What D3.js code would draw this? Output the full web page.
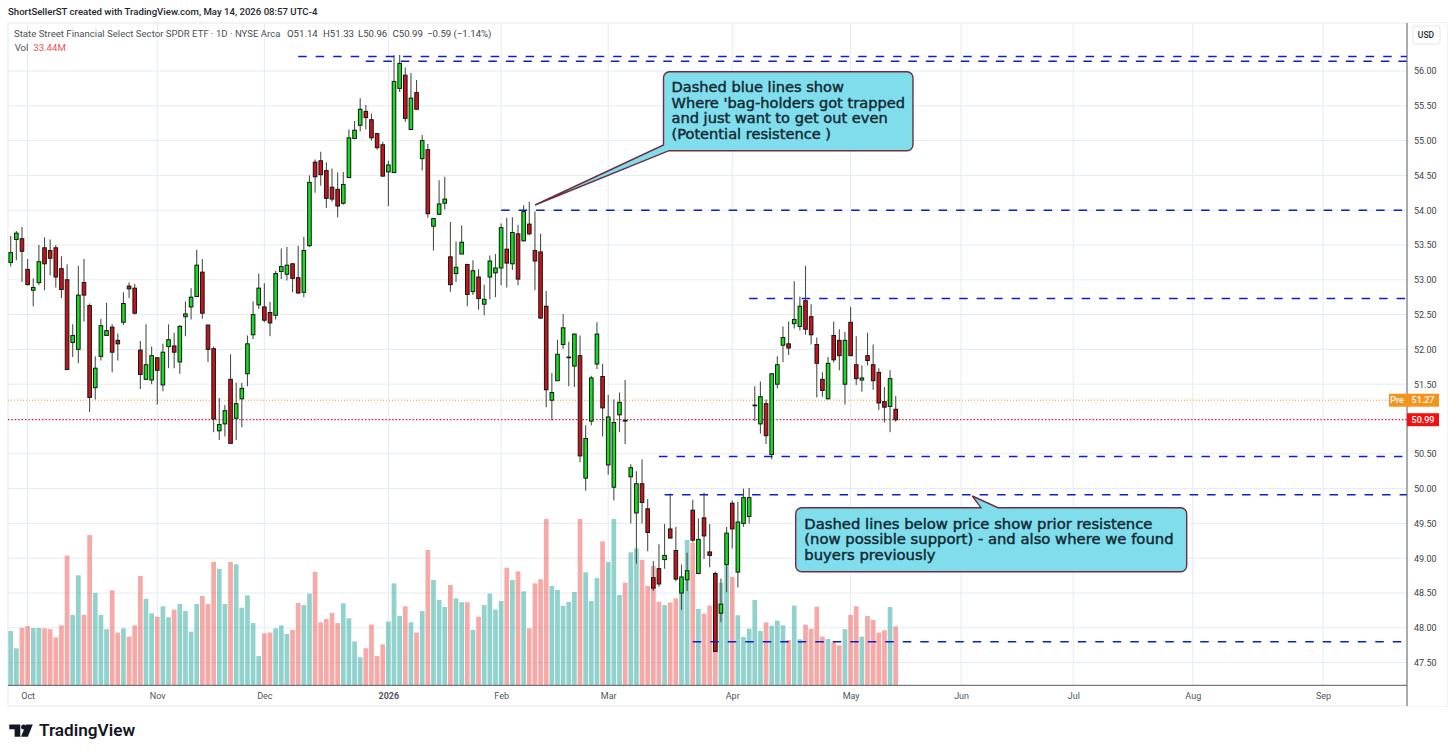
<!DOCTYPE html>
<html><head><meta charset="utf-8">
<script src="https://cdn.jsdelivr.net/npm/d3@7/dist/d3.min.js"></script>
<style>
html,body{margin:0;padding:0;background:#fff;overflow:hidden}
svg{display:block}
text{font-family:Roboto,"Open Sans",sans-serif}
.callout text{font-family:"DejaVu Sans",sans-serif;font-weight:400;fill:#0d2530;stroke:#0d2530;stroke-width:.4px}
</style></head><body>
<svg id="c" width="1456" height="755"></svg>
<script>
const opens=[53.25,53.58,53.59,53.15,52.85,52.96,53.46,53.42,53.46,53.16,53.00,52.10,52.00,52.96,52.63,51.45,51.90,52.20,52.32,52.13,52.39,52.91,52.88,51.99,51.57,51.56,51.88,51.49,52.04,52.05,51.82,52.47,52.61,52.76,53.11,52.35,52.01,50.83,50.93,51.57,51.01,51.29,51.65,52.21,52.64,52.61,52.53,52.49,53.12,53.08,53.23,53.03,52.82,53.49,54.69,54.71,54.57,54.33,54.30,54.10,54.47,55.03,55.22,55.42,55.30,55.10,54.94,54.55,54.54,55.75,55.94,55.16,55.69,54.74,54.87,53.77,53.94,54.10,53.33,53.09,53.37,53.22,52.83,53.04,52.65,53.04,53.10,53.17,53.44,53.23,53.66,53.56,53.80,53.42,53.40,52.62,51.27,51.55,52.07,51.88,51.76,51.91,50.15,50.97,51.79,51.61,50.34,50.02,51.06,50.98,50.17,49.65,50.07,49.71,48.72,48.85,48.98,49.42,49.11,48.50,48.69,49.69,48.78,49.58,49.09,48.78,48.21,48.91,49.79,48.80,49.50,49.60,51.19,50.93,51.22,50.49,51.50,52.06,52.08,52.37,52.33,52.70,52.47,52.07,51.57,51.29,52.20,52.13,51.50,52.39,51.78,51.56,51.91,51.78,51.67,51.25,51.18,51.14];
const closes=[53.39,53.67,53.41,52.93,52.89,53.26,53.23,53.31,53.04,52.86,51.71,52.20,52.78,52.78,51.31,51.73,52.34,52.27,51.96,52.08,52.66,52.87,52.52,51.64,51.78,51.91,51.70,51.96,52.14,51.96,52.33,52.51,52.75,53.21,52.52,52.00,51.00,50.92,51.12,50.65,51.22,51.44,52.08,52.50,52.88,52.42,52.38,53.09,53.19,53.21,53.02,52.81,53.42,54.40,54.48,54.51,54.17,54.16,54.06,54.37,55.04,55.15,55.45,55.33,55.04,54.90,54.49,54.65,55.85,56.11,55.32,55.61,55.45,55.00,53.95,53.88,54.09,54.16,52.93,53.18,53.54,52.79,53.13,52.73,52.72,53.27,53.17,53.75,53.24,53.68,53.01,53.98,53.66,53.27,52.45,51.42,51.38,51.93,52.31,51.89,52.22,50.47,50.72,51.59,52.22,51.16,51.03,50.95,51.24,50.97,50.30,50.07,49.80,49.37,48.57,48.63,49.04,49.29,48.70,48.73,48.82,49.26,49.27,49.32,49.04,47.66,48.34,49.36,49.42,49.52,49.87,49.87,51.20,51.32,50.76,51.65,51.78,52.17,52.02,52.43,52.62,52.29,52.21,51.80,51.41,51.80,51.85,51.91,52.13,51.91,51.58,51.59,51.84,51.55,51.23,51.17,51.58,50.99];
const highs=[53.63,53.70,53.76,53.30,53.02,53.50,53.61,53.58,53.50,53.34,53.22,52.36,53.20,53.30,52.66,51.90,52.44,52.67,52.36,52.23,52.82,52.96,52.94,52.12,52.36,52.04,51.89,52.08,52.36,52.24,52.35,52.69,52.88,53.43,53.30,52.35,52.04,51.30,51.20,51.93,51.52,51.52,52.20,52.69,53.09,52.95,52.68,53.13,53.45,53.47,53.24,53.49,53.62,54.50,54.73,54.84,54.69,54.60,54.54,54.55,55.16,55.28,55.61,55.51,55.39,55.11,54.98,54.71,56.23,56.23,56.05,55.97,55.87,55.08,54.95,53.89,54.43,54.48,53.83,53.55,53.78,53.23,53.28,53.15,52.93,53.35,53.37,53.81,53.89,53.90,53.79,54.07,54.12,53.98,53.66,52.84,51.66,52.14,52.51,52.11,52.23,52.20,50.91,51.62,52.39,51.79,51.35,51.28,51.38,51.56,50.35,50.25,50.42,49.85,48.96,49.20,49.49,49.93,49.45,48.91,49.08,49.84,49.57,49.94,49.49,48.81,48.71,49.45,49.83,49.81,50.00,50.01,51.47,51.54,51.28,51.66,51.90,52.33,52.40,52.98,52.76,53.20,52.65,52.17,51.67,51.89,52.40,52.29,52.25,52.61,52.19,51.77,52.24,52.07,51.73,51.46,51.70,51.33];
const lows=[53.19,53.28,52.97,52.92,52.62,52.92,52.85,53.06,52.89,52.74,51.71,51.89,51.80,52.40,51.10,51.28,51.84,52.20,51.67,51.84,52.35,52.74,52.50,51.43,51.56,51.50,51.21,51.40,51.73,51.73,51.65,52.19,52.43,52.75,52.44,51.82,50.81,50.70,50.75,50.65,50.70,50.88,51.47,52.15,52.58,52.39,52.19,52.43,53.01,52.99,52.82,52.80,52.75,53.47,54.25,54.35,54.03,54.12,53.90,54.08,54.47,55.03,55.13,55.16,55.00,54.87,54.48,54.06,54.54,55.70,55.27,55.15,55.45,54.57,53.89,53.42,53.94,54.01,52.83,52.97,53.37,52.62,52.78,52.57,52.49,52.72,52.75,52.92,52.89,53.14,52.92,53.55,53.64,52.85,52.44,51.17,50.98,51.55,52.01,51.47,51.46,50.38,49.97,50.91,51.72,50.75,50.20,49.83,50.81,50.64,49.50,48.92,49.50,49.10,48.53,48.59,48.85,49.28,48.67,48.26,48.53,49.23,48.78,48.99,48.87,47.66,48.08,48.51,49.14,48.58,49.45,49.50,50.97,50.79,50.64,50.42,51.44,51.82,51.92,52.30,52.27,52.21,52.07,51.31,51.32,51.28,51.81,51.70,51.21,51.91,51.49,51.39,51.77,51.42,51.13,50.95,50.81,50.96];
const volumes=[30.8,21.0,32.5,33.6,32.5,32.5,32.3,31.8,27.2,34.0,73.5,39.9,62.4,39.9,85.2,52.4,39.9,31.8,53.9,29.9,32.3,27.6,34.0,62.0,49.0,40.8,38.9,44.8,38.6,42.9,46.1,42.1,30.4,46.1,50.7,46.1,69.9,66.0,46.1,69.9,68.6,44.0,51.0,35.3,16.6,29.5,29.9,32.3,34.0,29.1,31.4,46.7,45.5,52.0,64.3,35.7,37.6,41.0,35.3,46.5,38.0,24.9,15.9,21.0,34.4,16.6,23.2,36.1,57.8,39.3,44.8,35.7,29.9,42.1,76.7,59.7,48.4,44.4,56.9,49.3,47.1,47.1,31.4,38.9,45.5,52.0,42.9,47.8,66.7,59.7,64.6,53.3,32.3,57.8,60.1,94.3,56.3,54.1,45.0,47.3,52.9,94.3,64.1,47.8,60.9,81.6,69.9,94.3,51.2,58.2,75.4,77.7,71.1,56.3,67.7,47.4,45.5,46.9,49.3,58.2,82.4,80.9,43.3,40.6,45.2,48.4,58.2,68.8,61.4,39.7,27.4,32.1,48.4,30.8,35.7,33.8,36.7,34.0,25.7,45.2,26.1,34.4,32.1,44.6,27.6,26.3,24.4,22.7,31.8,39.9,44.8,27.6,39.3,37.0,29.9,31.2,44.4,33.44];
const monthIndex=[3,26,45,67,87,106,128,149,168.6,188.5,209.7,232.8];
const monthLabels=["Oct","Nov","Dec","2026","Feb","Mar","Apr","May","Jun","Jul","Aug","Sep"];
const priceTicks=d3.range(47.5,56.01,0.5);
const levels=[56.21,56.14,54.00,52.73,50.46,49.91,47.80];
const levelStart=[51,63,87,131,115,116,121];
const lastClose=50.99, prePrice=51.27;
const note1=["Dashed blue lines show","Where 'bag-holders got trapped","and just want to get out even","(Potential resistence )"];
const note2=["Dashed lines below price show prior resistence","(now possible support) - and also where we found","buyers previously"];
const header="ShortSellerST created with TradingView.com, May 14, 2026 08:57 UTC-4";
const title="State Street Financial Select Sector SPDR ETF · 1D · NYSE Arca";
const ohlcText=["O51.14","H51.33","L50.96","C50.99","−0.59 (−1.14%)"];

const L=8,R=1407,RF=1447,T=23,B=685.3,BF=706;
const x=d3.scaleLinear().domain([0,157]).range([10.7,895.7]);
const y=d3.scaleLinear().domain([56,47.5]).range([71,662.6]);
const yV=d3.scaleLinear().domain([0,94.3]).range([B,519]);
const svg=d3.select("#c");
svg.append("rect").attr("width",1456).attr("height",755).attr("fill","#fff");
// frame
svg.append("rect").attr("x",L).attr("y",T).attr("width",RF-L).attr("height",BF-T).attr("fill","none").attr("stroke","#e9ecef").attr("stroke-width",1.2);
// grid
const g=svg.append("g");
g.selectAll("line.h").data(priceTicks).join("line").attr("x1",L).attr("x2",R).attr("y1",d=>y(d)).attr("y2",d=>y(d)).attr("stroke","#e3ecf3").attr("stroke-width",1);
g.selectAll("line.v").data(monthIndex).join("line").attr("x1",d=>x(d)).attr("x2",d=>x(d)).attr("y1",T).attr("y2",B).attr("stroke","#e3ecf3").attr("stroke-width",1);
// volume
svg.append("g").selectAll("rect").data(volumes).join("rect")
 .attr("x",(d,i)=>x(i)-2.35).attr("width",4.7).attr("y",d=>yV(d)).attr("height",d=>B-yV(d))
 .attr("fill",(d,i)=>closes[i]>=opens[i]?"#26a69a":"#ef5350").attr("fill-opacity",.5);
// price lines
svg.append("line").attr("x1",L).attr("x2",1389).attr("y1",y(prePrice)).attr("y2",y(prePrice)).attr("stroke","#f59a23").attr("stroke-width",1).attr("stroke-dasharray","1 2");
svg.append("line").attr("x1",L).attr("x2",R).attr("y1",y(lastClose)).attr("y2",y(lastClose)).attr("stroke","#e8103c").attr("stroke-width",1.2).attr("stroke-dasharray","1.4 2");
// candles
const cg=svg.append("g");
cg.selectAll("line").data(opens).join("line").attr("x1",(d,i)=>x(i)).attr("x2",(d,i)=>x(i)).attr("y1",(d,i)=>y(highs[i])).attr("y2",(d,i)=>y(lows[i])).attr("stroke","#4a5248").attr("stroke-width",1.1);
cg.selectAll("rect").data(opens).join("rect")
 .attr("x",(d,i)=>x(i)-1.8).attr("width",3.6)
 .attr("y",(d,i)=>y(Math.max(d,closes[i]))).attr("height",(d,i)=>Math.max(0.3,Math.abs(y(d)-y(closes[i]))))
 .attr("fill",(d,i)=>closes[i]>=d?"#18dc22":"#cc1020").attr("stroke","#0e1a0e").attr("stroke-width",1);
// dashed levels
svg.append("g").selectAll("line").data(levels).join("line").attr("x1",(d,i)=>x(levelStart[i])).attr("x2",R).attr("y1",d=>y(d)).attr("y2",d=>y(d)).attr("stroke","#0f1fc8").attr("stroke-width",1.5).attr("stroke-dasharray","8.5 9");
// axes
svg.append("rect").attr("x",R).attr("y",T).attr("width",RF-R).attr("height",BF-T).attr("fill","#fff");
const ay=svg.append("g").attr("transform",`translate(${R},0)`).call(d3.axisRight(y).tickValues(priceTicks.filter(d=>d!==51)).tickFormat(d3.format(".2f")).tickSize(0).tickPadding(7));
ay.select(".domain").remove();
ay.selectAll("text").attr("font-family","Roboto").attr("font-size",9).attr("fill","#3a3f47");
const ax=svg.append("g").attr("transform",`translate(0,${B})`).call(d3.axisBottom(x).tickValues(monthIndex).tickFormat((d,i)=>monthLabels[i]).tickSize(0).tickPadding(7));
ax.select(".domain").remove();
ax.selectAll("text").attr("font-family","Roboto").attr("font-size",9).attr("fill","#50555c").attr("font-weight",(d,i)=>monthLabels[i]==="2026"?700:400);
svg.append("line").attr("x1",L).attr("x2",R).attr("y1",B).attr("y2",B).attr("stroke","#555a60").attr("stroke-width",1);
svg.append("line").attr("x1",R).attr("x2",R).attr("y1",T).attr("y2",BF).attr("stroke","#555a60").attr("stroke-width",1);
// USD box
svg.append("rect").attr("x",1413).attr("y",26).attr("width",27).attr("height",18).attr("rx",2).attr("fill","#fff").attr("stroke","#e3e6ea");
svg.append("text").attr("x",1426).attr("y",38.3).attr("text-anchor","middle").attr("font-size",8.5).attr("font-weight",500).attr("fill","#2a2e39").text("USD");
// price tags
svg.append("rect").attr("x",1389).attr("y",y(prePrice)-6.5).attr("width",50).attr("height",13).attr("fill","#f7931a");
svg.append("text").attr("x",1397).attr("y",y(prePrice)+3.2).attr("text-anchor","middle").attr("font-size",9).attr("font-weight",500).attr("fill","#fff").text("Pre");
svg.append("text").attr("x",1423).attr("y",y(prePrice)+3.2).attr("text-anchor","middle").attr("font-size",9).attr("font-weight",500).attr("fill","#fff").text(prePrice.toFixed(2));
svg.append("rect").attr("x",1407).attr("y",y(lastClose)-6.5).attr("width",32).attr("height",13).attr("fill","#f50f0f");
svg.append("text").attr("x",1423).attr("y",y(lastClose)+3.2).attr("text-anchor","middle").attr("font-size",9).attr("font-weight",500).attr("fill","#fff").text(lastClose.toFixed(2));
// header
svg.append("text").attr("x",8).attr("y",15).attr("font-size",9.6).attr("font-weight",500).attr("fill","#23262c").text(header);
svg.append("text").attr("x",14).attr("y",36.7).attr("font-size",9.6).attr("fill","#4d5259").text(title);
const ohlcX=[287,323,358,392.5,427];
ohlcText.forEach((t,i)=>svg.append("text").attr("x",ohlcX[i]).attr("y",36.7).attr("font-size",9.6).attr("fill","#3f444b").text(t));
svg.append("text").attr("x",14.7).attr("y",50.5).attr("font-size",9.6).attr("fill","#4d5259").text("Vol");
svg.append("text").attr("x",33.3).attr("y",50.5).attr("font-size",9.6).attr("fill","#ef5350").text(volumes[157].toFixed(2)+"M");
// callouts
function callout(px,py,w,h,r,tail,lines,tx,ty,lh,fs){
 const G=svg.append("g").attr("class","callout");
 const path=d3.path();
 path.moveTo(px+r,py);
 if(tail.top){path.lineTo(tail.a,py);path.lineTo(tail.tx,tail.ty);path.lineTo(tail.b,py);}
 path.lineTo(px+w-r,py);path.arcTo(px+w,py,px+w,py+r,r);
 path.lineTo(px+w,py+h-r);path.arcTo(px+w,py+h,px+w-r,py+h,r);
 if(tail.bl){path.lineTo(tail.a,py+h);path.lineTo(tail.tx,tail.ty);path.lineTo(px,tail.b);}
 else{path.lineTo(px+r,py+h);path.arcTo(px,py+h,px,py+h-r,r);}
 path.lineTo(px,py+r);path.arcTo(px,py,px+r,py,r);path.closePath();
 G.append("path").attr("d",path.toString()).attr("fill","#7cdcea").attr("fill-opacity",.97).attr("stroke","#6b2f3f").attr("stroke-width",1.4);
 G.selectAll("text").data(lines).join("text").attr("x",tx).attr("y",(d,i)=>ty+i*lh).attr("font-size",fs).text(d=>d);
}
callout(663.5,71.7,249.5,79,6,{bl:true,a:669,tx:535,ty:205,b:145},note1,671.5,92,15.7,14.6);
callout(795.7,507.7,391,64,6,{top:true,a:981,tx:972.3,ty:496,b:998},note2,804.3,528.5,15.8,14.8);
// logo
const lg=svg.append("g").attr("fill","#131722");
lg.append("path").attr("d","M9.3 724.5H20.3V736.7H14.6V729.3H9.3Z");
lg.append("circle").attr("cx",23.6).attr("cy",727).attr("r",2.5);
lg.append("path").attr("d","M26 724.5H32.8L27.8 736.7H21Z");
svg.append("text").attr("x",39).attr("y",736).attr("font-family","Inter").attr("font-size",17.2).attr("font-weight",600).attr("fill","#131722").text("TradingView");
</script></body></html>
